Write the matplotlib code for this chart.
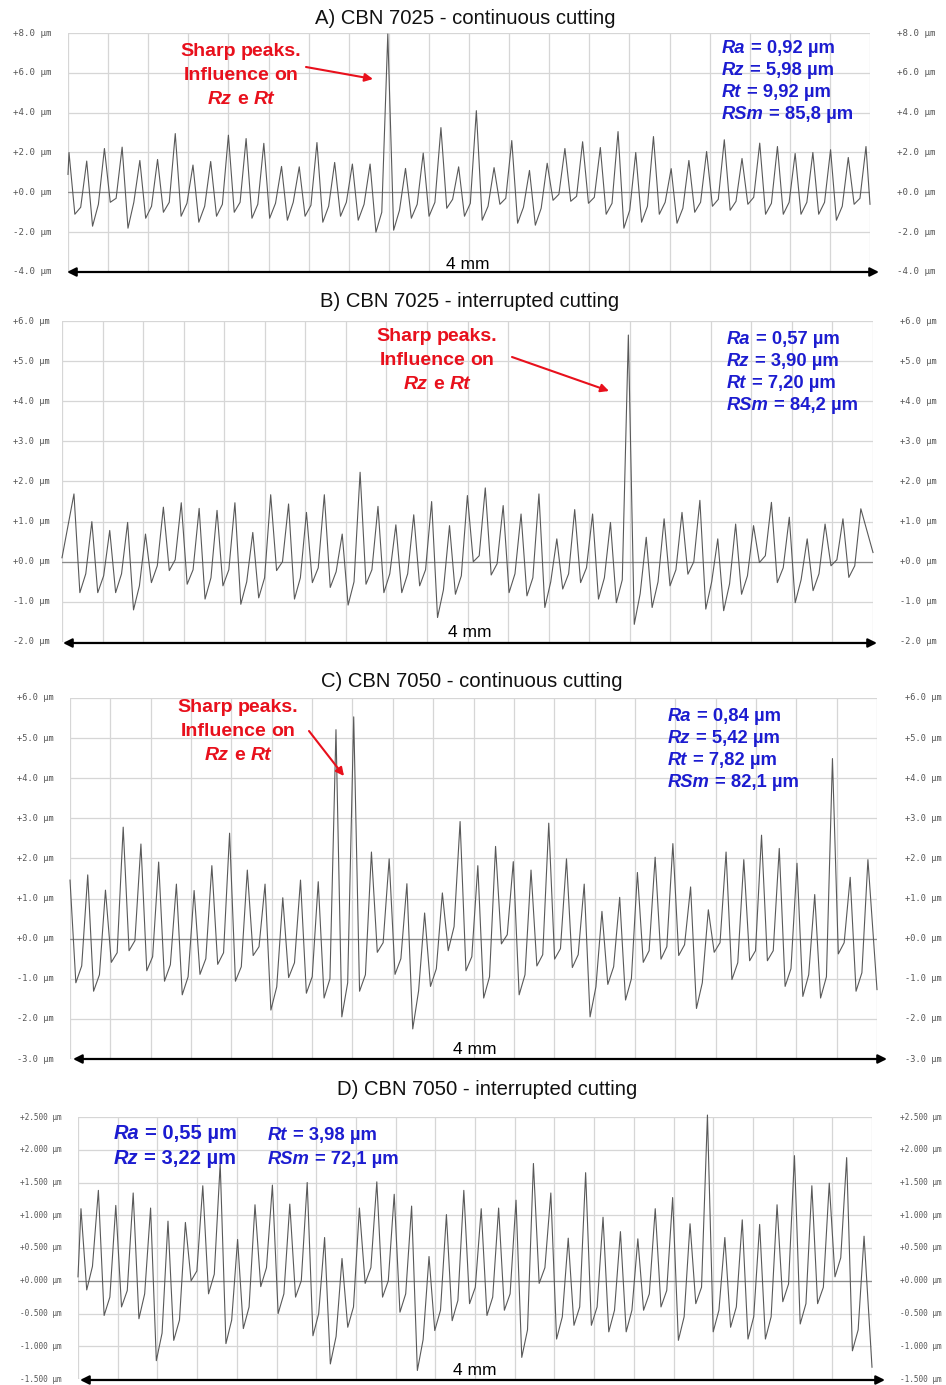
import numpy as np
import matplotlib
matplotlib.use("Agg")
import matplotlib.pyplot as plt
from matplotlib import transforms

# ---------------- data (µm) ----------------
A_peaks = [2.0, 1.57, 2.2, 2.27, 1.6, 1.65, 2.95, 1.37, 1.55, 2.87,
           2.7, 2.46, 1.3, 1.28, 2.5, 1.5, 1.42, 1.42, 7.95, 1.2,
           1.97, 3.25, 1.28, 4.1, 1.24, 2.6, 1.1, 1.46, 2.2, 2.54,
           2.25, 3.05, 2.0, 2.8, 1.19, 1.6, 2.05, 2.64, 1.7, 2.47,
           2.3, 1.95, 2.0, 2.14, 1.75, 2.3]
A_valleys = [-1.1, -1.7, -0.5, -1.8, -1.3, -1.0, -1.2, -1.5, -1.2, -1.0,
             -1.3, -1.3, -1.4, -1.2, -1.5, -1.2, -1.4, -2.0, -1.9, -1.3,
             -1.2, -0.8, -1.2, -1.4, -0.6, -1.55, -1.65, -0.4, -0.45, -0.55,
             -1.1, -1.8, -1.5, -1.1, -1.55, -1.0, -0.7, -0.9, -0.6, -1.1,
             -1.1, -1.1, -1.1, -1.4, -0.6]
A_shoulders = [-0.75, -0.6, -0.3, -0.5, -0.7, -0.5, -0.55, -0.7, -0.6, -0.5,
               -0.6, -0.55, -0.5, -0.65, -0.7, -0.5, -0.6, -1.0, -0.9, -0.6,
               -0.5, -0.35, -0.55, -0.7, -0.3, -0.75, -0.8, -0.1, -0.2, -0.25,
               -0.55, -0.9, -0.7, -0.5, -0.8, -0.5, -0.35, -0.45, -0.25, -0.55,
               -0.5, -0.5, -0.5, -0.7, -0.3]
A_start, A_end = 0.9, -0.6

B_peaks = [1.69, 1.0, 0.78, 0.98, 0.69, 1.36, 1.47, 1.33, 1.28, 1.47,
           0.73, 1.67, 1.44, 1.23, 1.67, 0.69, 2.23, 1.38, 0.92, 1.17,
           1.5, 0.9, 1.65, 1.84, 1.4, 1.19, 1.69, 0.57, 1.3, 1.19,
           0.98, 5.65, 0.61, 1.07, 1.23, 1.53, 0.57, 0.94, 0.9, 1.48,
           1.11, 0.57, 0.94, 1.07, 1.32]
B_valleys = [-0.77, -0.77, -0.77, -1.2, -0.52, -0.22, -0.56, -0.93, -0.6, -1.06,
             -0.9, -0.22, -0.93, -0.52, -0.64, -1.08, -0.56, -0.77, -0.77, -0.6,
             -1.39, -0.81, 0.0, -0.33, -0.77, -0.85, -1.14, -0.68, -0.52, -0.93,
             -1.02, -1.56, -1.14, -0.6, -0.31, -1.18, -1.22, -0.81, -0.02, -0.52,
             -1.02, -0.72, -0.1, -0.39]
B_shoulders = [-0.3, -0.35, -0.3, -0.6, -0.1, 0.05, -0.2, -0.4, -0.2, -0.5,
               -0.4, 0.0, -0.4, -0.15, -0.25, -0.5, -0.2, -0.3, -0.3, -0.2,
               -0.7, -0.35, 0.15, -0.05, -0.3, -0.4, -0.5, -0.3, -0.15, -0.4,
               -0.45, -0.8, -0.5, -0.2, 0.0, -0.5, -0.55, -0.35, 0.15, -0.15,
               -0.45, -0.3, 0.05, -0.1]
B_start, B_end = 0.1, 0.23

C_peaks = [1.46, 1.59, 1.21, 2.78, 2.36, 1.91, 1.36, 1.2, 1.82, 2.63, 1.71,
           1.36, 1.02, 1.46, 1.42, 5.21, 5.53, 2.16, 1.99, 1.37, 0.64,
           1.14, 2.92, 1.82, 2.3, 1.92, 1.71, 2.88, 1.99, 1.36, 0.68,
           1.03, 1.65, 2.03, 2.37, 1.29, 0.72, 2.16, 1.97, 2.58, 2.25,
           1.88, 1.1, 4.49, 1.53, 1.97]
C_valleys = [-1.1, -1.31, -0.59, -0.3, -0.8, -1.06, -1.4, -0.89, -0.64, -1.06, -0.42,
             -1.78, -0.97, -1.36, -1.48, -1.95, -1.31, -0.34, -0.89, -2.25, -1.19,
             -0.3, -0.8, -1.48, -0.13, -1.4, -0.68, -0.51, -0.72, -1.95, -1.14,
             -1.53, -0.59, -0.51, -0.42, -1.74, -0.34, -1.02, -0.55, -0.55, -1.19,
             -1.44, -1.48, -0.38, -1.31]
C_shoulders = [-0.68, -0.9, -0.35, -0.05, -0.45, -0.65, -0.95, -0.5, -0.35, -0.7,
               -0.2, -1.2, -0.6, -0.95, -1.0, -1.1, -0.9, -0.1, -0.5, -1.3,
               -0.75, 0.3, -0.45, -0.95, 0.1, -0.9, -0.4, -0.25, -0.4, -1.2,
               -0.7, -1.0, -0.3, -0.2, -0.15, -1.1, -0.1, -0.6, -0.3, -0.3,
               -0.75, -0.9, -0.95, -0.1, -0.85]
C_start, C_end = 1.46, -1.27

D_peaks = [1.1, 1.38, 1.15, 1.34, 1.11, 0.91, 0.89, 1.45, 1.79, 0.63,
           1.16, 1.46, 1.17, 1.5, 0.66, 0.34, 1.11, 1.51, 1.32, 1.14,
           0.37, 1.01, 1.38, 1.1, 1.11, 1.23, 1.79, 1.34, 0.65, 1.65,
           0.97, 0.75, 0.64, 1.1, 1.27, 0.87, 2.53, 0.66, 0.93, 0.86,
           1.16, 1.91, 1.45, 1.49, 1.88, 0.68]
D_valleys = [-0.14, -0.53, -0.4, -0.58, -1.22, -0.91, 0.0, -0.2, -0.96, -0.73,
             -0.09, -0.5, -0.25, -0.84, -1.27, -0.71, -0.04, -0.25, -0.48, -1.37,
             -0.76, -0.61, -0.35, -0.53, -0.45, -1.17, -0.04, -0.89, -0.68, -0.68,
             -0.78, -0.78, -0.45, -0.4, -0.91, -0.35, -0.78, -0.71, -0.89, -0.89,
             -0.32, -0.66, -0.35, 0.06, -1.07]
D_shoulders = [0.22, -0.25, -0.15, -0.2, -0.8, -0.6, 0.15, 0.1, -0.6, -0.4,
               0.2, -0.2, 0.0, -0.5, -0.85, -0.4, 0.2, 0.0, -0.2, -0.9,
               -0.45, -0.3, -0.1, -0.25, -0.2, -0.75, 0.2, -0.55, -0.4, -0.4,
               -0.45, -0.45, -0.2, -0.15, -0.55, -0.1, -0.45, -0.4, -0.55, -0.55,
               -0.05, -0.35, -0.1, 0.35, -0.75]
D_start, D_end = 0.06, -1.32

A_ticks = [-4, -2, 0, 2, 4, 6, 8]
A_ticklabels = ["-4.0 µm", "-2.0 µm", "+0.0 µm", "+2.0 µm", "+4.0 µm", "+6.0 µm", "+8.0 µm"]
B_ticks = [-2, -1, 0, 1, 2, 3, 4, 5, 6]
B_ticklabels = ["-2.0 µm", "-1.0 µm", "+0.0 µm", "+1.0 µm", "+2.0 µm", "+3.0 µm",
                "+4.0 µm", "+5.0 µm", "+6.0 µm"]
C_ticks = [-3, -2, -1, 0, 1, 2, 3, 4, 5, 6]
C_ticklabels = ["-3.0 µm", "-2.0 µm", "-1.0 µm", "+0.0 µm", "+1.0 µm", "+2.0 µm",
                "+3.0 µm", "+4.0 µm", "+5.0 µm", "+6.0 µm"]
D_ticks = [-1.5, -1.0, -0.5, 0.0, 0.5, 1.0, 1.5, 2.0, 2.5]
D_ticklabels = ["-1.500 µm", "-1.000 µm", "-0.500 µm", "+0.000 µm", "+0.500 µm",
                "+1.000 µm", "+1.500 µm", "+2.000 µm", "+2.500 µm"]

titles = ["A) CBN 7025 - continuous cutting", "B) CBN 7025 - interrupted cutting",
          "C) CBN 7050 - continuous cutting", "D) CBN 7050 - interrupted cutting"]
A_params = [("Ra", "= 0,92 µm"), ("Rz", "= 5,98 µm"), ("Rt", "= 9,92 µm"), ("RSm", "= 85,8 µm")]
B_params = [("Ra", "= 0,57 µm"), ("Rz", "= 3,90 µm"), ("Rt", "= 7,20 µm"), ("RSm", "= 84,2 µm")]
C_params = [("Ra", "= 0,84 µm"), ("Rz", "= 5,42 µm"), ("Rt", "= 7,82 µm"), ("RSm", "= 82,1 µm")]
D_params = [("Ra", "= 0,55 µm"), ("Rz", "= 3,22 µm"), ("Rt", "= 3,98 µm"), ("RSm", "= 72,1 µm")]
length_label = "4 mm"

# ---------------- figure ----------------
W, H = 946, 1385
fig = plt.figure(figsize=(W / 100, H / 100), dpi=100)
fig.patch.set_facecolor("white")
renderer = fig.canvas.get_renderer()
FONT = "Liberation Sans"
BLUE = "#1c1cd0"
RED = "#e8101c"


def fx(x):
    return x / W


def fy(y):
    return 1 - y / H


def build(peaks, valleys, shoulders, start, end, p0, p1):
    n = len(peaks)
    xp = np.linspace(p0, p1, n)
    step = (p1 - p0) / (n - 1)
    xs, ys = [0.0], [start]
    for i in range(n):
        xs.append(xp[i]); ys.append(peaks[i])
        if i < n - 1:
            xs += [xp[i] + 0.33 * step, xp[i] + 0.66 * step]
            ys += [valleys[i], shoulders[i]]
    xs.append(4.0); ys.append(end)
    return np.array(xs), np.array(ys)


def rich(x, yb, parts, color, size, ha="left"):
    """parts: list of (text, italic); separated by one space; yb = baseline px"""
    probe1 = fig.text(0, 0, "R R", fontsize=size, weight="bold", family=FONT)
    probe2 = fig.text(0, 0, "RR", fontsize=size, weight="bold", family=FONT)
    sp = probe1.get_window_extent(renderer).width - probe2.get_window_extent(renderer).width
    probe1.remove(); probe2.remove()
    arts, widths = [], []
    for txt, it in parts:
        t = fig.text(0, fy(yb), txt, fontsize=size, weight="bold",
                     style="italic" if it else "normal", color=color,
                     family=FONT, va="baseline", ha="left")
        arts.append(t)
        widths.append(t.get_window_extent(renderer).width)
    total = sum(widths) + sp * (len(parts) - 1)
    cx = x if ha == "left" else x - total / 2
    for t, w in zip(arts, widths):
        t.set_x(fx(cx))
        cx += w + sp


panels = [
    dict(p=A_peaks, v=A_valleys, s=A_shoulders, st=A_start, en=A_end, p0=0.005, p1=3.98,
         box=(68, 33, 870, 272), ylim=(-4, 8), ticks=A_ticks, tl=A_ticklabels,
         lx=13, rx=897, tfs=6.6, arrow=(272, 67, 879), mm=(468, 269),
         title=(titles[0], 465, 24)),
    dict(p=B_peaks, v=B_valleys, s=B_shoulders, st=B_start, en=B_end, p0=0.059, p1=3.94,
         box=(62, 321, 873, 642), ylim=(-2, 6), ticks=B_ticks, tl=B_ticklabels,
         lx=13, rx=900, tfs=6.2, arrow=(643, 63, 877), mm=(470, 637),
         title=(titles[1], 470, 307)),
    dict(p=C_peaks, v=C_valleys, s=C_shoulders, st=C_start, en=C_end, p0=0.0, p1=3.955,
         box=(70, 698, 877, 1059), ylim=(-3, 6), ticks=C_ticks, tl=C_ticklabels,
         lx=17, rx=905, tfs=6.2, arrow=(1059, 73, 887), mm=(475, 1054),
         title=(titles[2], 472, 687)),
    dict(p=D_peaks, v=D_valleys, s=D_shoulders, st=D_start, en=D_end, p0=0.015, p1=3.96,
         box=(78, 1117, 872, 1379), ylim=(-1.5, 2.5), ticks=D_ticks, tl=D_ticklabels,
         lx=20, rx=900, tfs=5.6, arrow=(1380, 80, 885), mm=(475, 1375),
         title=(titles[3], 487, 1095)),
]

for P in panels:
    l, t, r, b = P["box"]
    ax = fig.add_axes([fx(l), fy(b), (r - l) / W, (b - t) / H])
    ax.set_xlim(0, 4)
    ax.set_ylim(*P["ylim"])
    ax.set_xticks(np.arange(0, 4.001, 0.2))
    ax.set_yticks(P["ticks"])
    ax.grid(True, color="#d6d6d6", lw=0.9)
    ax.tick_params(length=0, labelleft=False, labelbottom=False)
    for sp_ in ax.spines.values():
        sp_.set_visible(False)
    ax.axhline(0, color="#8a8a8a", lw=0.9, zorder=2)
    xs, ys = build(P["p"], P["v"], P["s"], P["st"], P["en"], P["p0"], P["p1"])
    ax.plot(xs, ys, color="#595959", lw=0.8, zorder=3, clip_on=False)
    tr = transforms.blended_transform_factory(fig.transFigure, ax.transData)
    for v, lab in zip(P["ticks"], P["tl"]):
        for xx in (P["lx"], P["rx"]):
            ax.text(fx(xx), v, lab, transform=tr, fontsize=P["tfs"], color="#555555",
                    family="DejaVu Sans Mono", va="center", ha="left")
    # 4 mm arrow
    ay, ax0, ax1 = P["arrow"]
    fig.add_artist(matplotlib.patches.FancyArrowPatch(
        (fx(ax0), fy(ay)), (fx(ax1), fy(ay)), transform=fig.transFigure,
        arrowstyle="<|-|>", mutation_scale=13, color="black", lw=1.6,
        shrinkA=0, shrinkB=0))
    fig.text(fx(P["mm"][0]), fy(P["mm"][1]), length_label, fontsize=12.5,
             family=FONT, ha="center", va="baseline", color="black")
    tt, tx, ty = P["title"]
    fig.text(fx(tx), fy(ty), tt, fontsize=14.6, family=FONT, ha="center",
             va="baseline", color="#111111")

# parameter boxes (blue)
for params, x0, ys_ in [(A_params, 722, [53, 75, 97, 119]),
                        (B_params, 727, [344, 366, 388, 410]),
                        (C_params, 668, [721, 743, 765, 787])]:
    for (nm, val), yb in zip(params, ys_):
        rich(x0, yb, [(nm, True), (val, False)], BLUE, 13.2)
rich(114, 1139, [(D_params[0][0], True), (D_params[0][1], False)], BLUE, 14.5)
rich(114, 1164, [(D_params[1][0], True), (D_params[1][1], False)], BLUE, 14.5)
rich(268, 1140, [(D_params[2][0], True), (D_params[2][1], False)], BLUE, 13.2)
rich(268, 1164, [(D_params[3][0], True), (D_params[3][1], False)], BLUE, 13.2)

# red notes + arrows
for cx, yb0, arr in [(241, 56, ((306, 67), (373, 79))),
                     (437, 341, ((512, 357), (609, 391))),
                     (238, 712, ((309, 731), (344, 776)))]:
    rich(cx, yb0, [("Sharp", False), ("peaks.", False)], RED, 14, ha="center")
    rich(cx, yb0 + 24, [("Influence", False), ("on", False)], RED, 14, ha="center")
    rich(cx, yb0 + 48, [("Rz", True), ("e", False), ("Rt", True)], RED, 14, ha="center")
    (x1, y1), (x2, y2) = arr
    fig.add_artist(matplotlib.patches.FancyArrowPatch(
        (fx(x1), fy(y1)), (fx(x2), fy(y2)), transform=fig.transFigure,
        arrowstyle="-|>", mutation_scale=12, color=RED, lw=1.5,
        shrinkA=0, shrinkB=0))

fig.savefig("out.png", dpi=100, facecolor="white")
